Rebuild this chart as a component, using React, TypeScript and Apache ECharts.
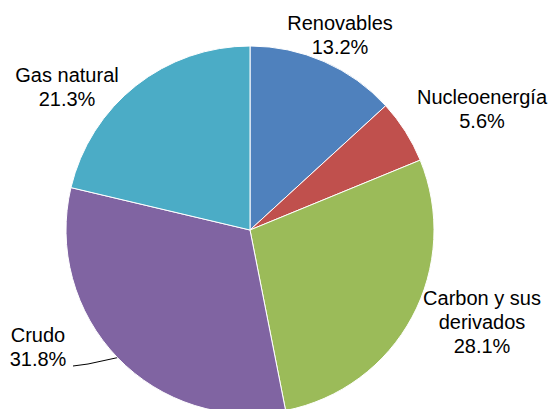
import React, { useEffect, useRef } from "react";
import * as echarts from "echarts";

const categories = ["Renovables", "Nucleoenergía", "Carbon y sus\nderivados", "Crudo", "Gas natural"];
const values = [13.2, 5.6, 28.1, 31.8, 21.3];
const colors = ["#4F81BD", "#C0504D", "#9BBB59", "#8064A2", "#4BACC6"];
const labelCenters = [
  [340, 35],
  [482, 109],
  [482, 322],
  [38, 347],
  [67, 87],
];
const crudoLineEnd = [[88, 364], [73, 366]];

export default function App() {
  const ref = useRef<HTMLDivElement>(null);
  useEffect(() => {
    const chart = echarts.init(ref.current!, null, { renderer: "svg" });
    chart.setOption({
      animation: false,
      backgroundColor: "#fff",
      series: [
        {
          type: "pie",
          center: [250, 230],
          radius: 184,
          startAngle: 90,
          clockwise: true,
          avoidLabelOverlap: false,
          itemStyle: { borderColor: "#fff", borderWidth: 1 },
          label: {
            show: true,
            position: "outside",
            formatter: (p: any) => `${p.name}\n${p.value.toFixed(1)}%`,
            fontFamily: "Liberation Sans, Arial, sans-serif",
            fontSize: 20,
            lineHeight: 24,
            color: "#000",
            align: "center",
          },
          labelLine: { show: false },
          labelLayout: (p: any) => {
            const c = labelCenters[p.dataIndex];
            const out: any = { x: c[0], y: c[1], align: "center", verticalAlign: "middle" };
            if (p.dataIndex === 3 && p.labelLinePoints) {
              out.labelLinePoints = [p.labelLinePoints[0], ...crudoLineEnd];
            }
            return out;
          },
          data: categories.map((name, i) => ({
            name,
            value: values[i],
            itemStyle: { color: colors[i] },
            labelLine:
              i === 3
                ? { show: true, length: 10, length2: 30, lineStyle: { color: "#000", width: 1 } }
                : { show: false },
          })),
        },
      ],
    });
    return () => chart.dispose();
  }, []);
  return (
    <div
      ref={ref}
      style={{ position: "fixed", left: 0, top: 0, width: 554, height: 409 }}
    />
  );
}
